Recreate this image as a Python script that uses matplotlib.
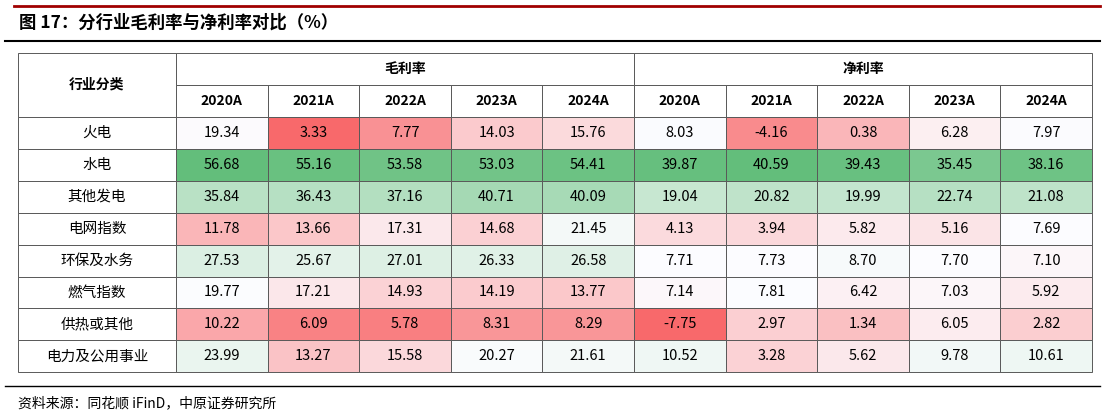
import numpy as np
import matplotlib.pyplot as plt
from matplotlib.colors import to_rgb
from matplotlib.patches import Rectangle

plt.rcParams['font.family'] = ['Noto Sans CJK SC', 'DejaVu Sans']

title = '图 17：分行业毛利率与净利率对比（%）'
source = '资料来源：同花顺 iFinD，中原证券研究所'
groups = ['毛利率', '净利率']
years = ['2020A', '2021A', '2022A', '2023A', '2024A']
industries = ['火电', '水电', '其他发电', '电网指数', '环保及水务', '燃气指数', '供热或其他', '电力及公用事业']
gross = np.array([
    [19.34, 3.33, 7.77, 14.03, 15.76],
    [56.68, 55.16, 53.58, 53.03, 54.41],
    [35.84, 36.43, 37.16, 40.71, 40.09],
    [11.78, 13.66, 17.31, 14.68, 21.45],
    [27.53, 25.67, 27.01, 26.33, 26.58],
    [19.77, 17.21, 14.93, 14.19, 13.77],
    [10.22, 6.09, 5.78, 8.31, 8.29],
    [23.99, 13.27, 15.58, 20.27, 21.61],
])
net = np.array([
    [8.03, -4.16, 0.38, 6.28, 7.97],
    [39.87, 40.59, 39.43, 35.45, 38.16],
    [19.04, 20.82, 19.99, 22.74, 21.08],
    [4.13, 3.94, 5.82, 5.16, 7.69],
    [7.71, 7.73, 8.70, 7.70, 7.10],
    [7.14, 7.81, 6.42, 7.03, 5.92],
    [-7.75, 2.97, 1.34, 6.05, 2.82],
    [10.52, 3.28, 5.62, 9.78, 10.61],
])

red, white, green = np.array(to_rgb('#F8696B')), np.array(to_rgb('#FCFCFF')), np.array(to_rgb('#63BE7B'))

def scale_color(v, lo, mid, hi):
    if v <= mid:
        t = (mid - v) / (mid - lo)
        return white + (red - white) * t
    t = (v - mid) / (hi - mid)
    return white + (green - white) * t

fig = plt.figure(figsize=(11.1, 4.17), dpi=100)
ax = fig.add_axes([0, 0, 1, 1])
ax.set_xlim(0, 1110)
ax.set_ylim(417, 0)
ax.axis('off')

ax.plot([14, 1100], [6, 6], color='#A00000', lw=2)
ax.text(19, 23, title, fontsize=12.5, fontweight='bold', va='center', ha='left')
ax.plot([5, 1100], [41, 41], color='black', lw=1.5)

x0, xc, cw = 18, 176, (1092 - 176) / 10
yh1, yh2, yd, rh = 53, 85, 117, 31.9
grid = '#595959'

# header
ax.add_patch(Rectangle((x0, yh1), xc - x0, yd - yh1, fc='white', ec=grid, lw=0.7))
ax.text((x0 + xc) / 2, (yh1 + yd) / 2, '行业分类', ha='center', va='center', fontsize=10, fontweight='bold')
for g, name in enumerate(groups):
    gx = xc + g * 5 * cw
    ax.add_patch(Rectangle((gx, yh1), 5 * cw, yh2 - yh1, fc='white', ec=grid, lw=0.7))
    ax.text(gx + 2.5 * cw, (yh1 + yh2) / 2, name, ha='center', va='center', fontsize=10, fontweight='bold')
    for j, yr in enumerate(years):
        cx = gx + j * cw
        ax.add_patch(Rectangle((cx, yh2), cw, yd - yh2, fc='white', ec=grid, lw=0.7))
        ax.text(cx + cw / 2, (yh2 + yd) / 2, yr, ha='center', va='center', fontsize=10, fontweight='bold')

# body
for i, ind in enumerate(industries):
    y = yd + i * rh
    ax.add_patch(Rectangle((x0, y), xc - x0, rh, fc='white', ec=grid, lw=0.7))
    ax.text((x0 + xc) / 2, y + rh / 2, ind, ha='center', va='center', fontsize=10.5)
    for g, data in enumerate([gross, net]):
        lo, mid, hi = data.min(), np.median(data), data.max()
        for j in range(5):
            v = data[i, j]
            cx = xc + (g * 5 + j) * cw
            ax.add_patch(Rectangle((cx, y), cw, rh, fc=scale_color(v, lo, mid, hi), ec=grid, lw=0.7))
            ax.text(cx + cw / 2, y + rh / 2, f'{v:.2f}', ha='center', va='center', fontsize=10.5)

ax.plot([5, 1100], [386, 386], color='black', lw=1)
ax.text(18, 403, source, fontsize=10, va='center', ha='left')

fig.savefig('out.png', dpi=100)
